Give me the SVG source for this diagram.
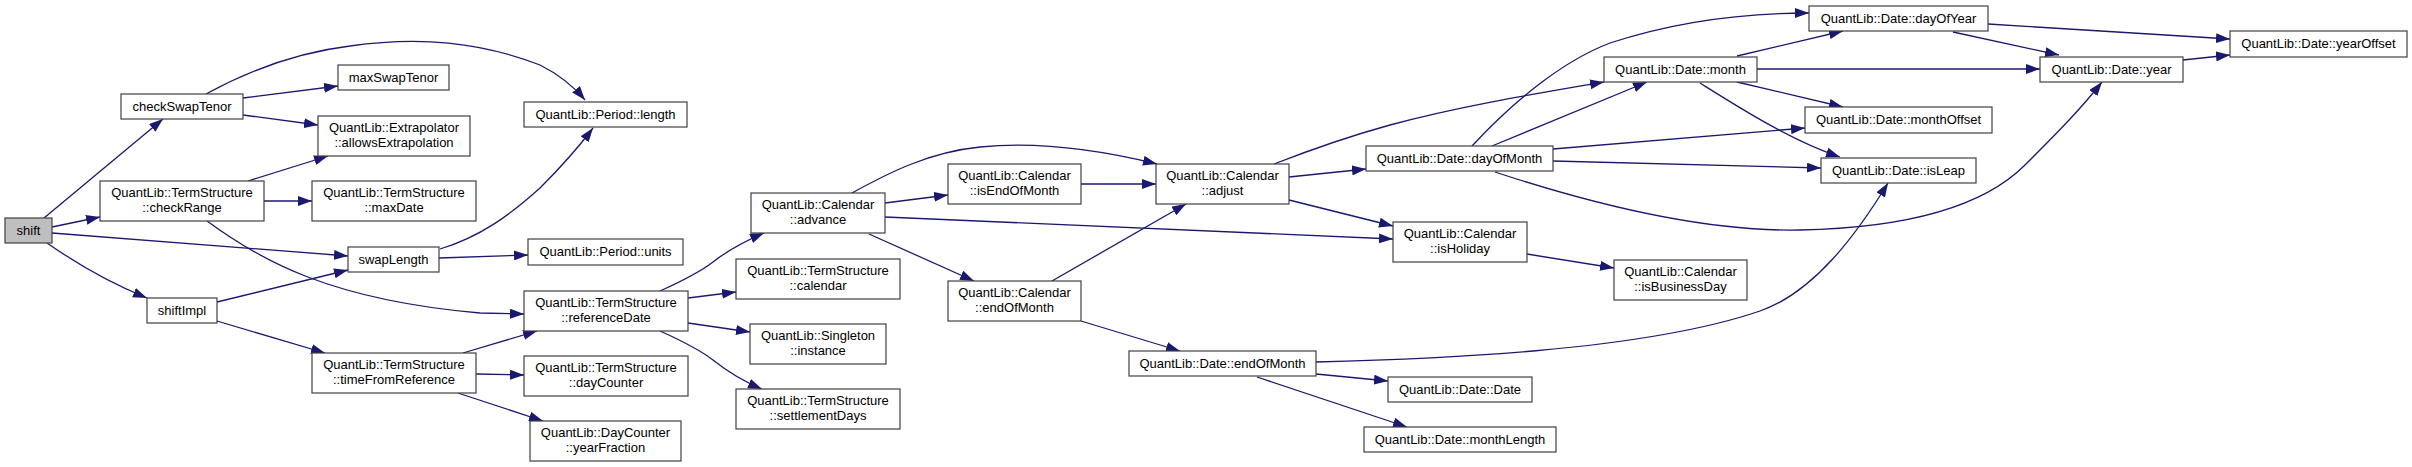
<svg xmlns="http://www.w3.org/2000/svg" width="2412" height="467" viewBox="0 0 2412 467">
<style>
.n rect{fill:#ffffff;stroke:#404040;stroke-width:1.2}
.root rect{fill:#bfbfbf}
.n text{font-family:"Liberation Sans",Arial,sans-serif;font-size:13px;fill:#000;text-anchor:middle}
.e path{fill:none;stroke:#191970;stroke-width:1.3;marker-end:url(#a)}
</style>
<defs>
<marker id="a" markerUnits="userSpaceOnUse" markerWidth="14" markerHeight="10" refX="14" refY="5" orient="auto">
<path d="M0,0 L14,5 L0,10 Z" fill="#191970"/>
</marker>
</defs>
<rect width="2412" height="467" fill="#ffffff"/>
<g id="edges" class="e">
<path d="M44,218 L163,119"/>
<path d="M52,227 L100,217"/>
<path d="M52,233 L348,256"/>
<path d="M47,243 C80,266 110,283 147,298"/>
<path d="M243,98 L338,86"/>
<path d="M243,115 L318,125"/>
<path d="M206,94 C250,70 300,52 350,46 C420,36 480,42 540,65 C560,75 575,88 585,100"/>
<path d="M248,181 L328,156"/>
<path d="M264,201 L312,201"/>
<path d="M207,221 C260,260 330,300 480,313 L524,314"/>
<path d="M440,249 C480,237 510,215 540,188 C560,168 578,148 593,128"/>
<path d="M439,258 L528,255"/>
<path d="M217,302 L348,270"/>
<path d="M217,321 L325,353"/>
<path d="M463,353 L537,331"/>
<path d="M476,374 L524,375"/>
<path d="M458,393 L543,421"/>
<path d="M660,291 C680,282 700,272 713,262 C727,251 745,241 764,233"/>
<path d="M688,298 L736,292"/>
<path d="M688,323 L750,332"/>
<path d="M660,331 C680,340 700,350 713,360 C728,372 745,382 762,389"/>
<path d="M852,193 C890,172 930,152 980,147 C1040,141 1100,150 1157,164"/>
<path d="M885,203 L948,195"/>
<path d="M885,217 L1393,239"/>
<path d="M869,234 L974,281"/>
<path d="M1081,184 L1156,184"/>
<path d="M1052,281 L1186,204"/>
<path d="M1081,321 L1180,351"/>
<path d="M1274,164 C1310,150 1350,136 1390,125 C1460,106 1540,93 1604,82"/>
<path d="M1289,177 L1366,169"/>
<path d="M1289,200 L1393,226"/>
<path d="M1316,362 C1430,359 1640,352 1760,311 C1815,292 1858,232 1888,183"/>
<path d="M1316,374 L1388,381"/>
<path d="M1257,377 L1407,427"/>
<path d="M1472,146 C1510,105 1560,62 1610,43 C1680,20 1750,13 1809,13"/>
<path d="M1492,146 L1647,82"/>
<path d="M1553,149 L1805,128"/>
<path d="M1553,161 L1821,168"/>
<path d="M1495,172 C1580,200 1700,232 1800,230 C1900,228 1980,210 2025,165 C2055,135 2080,110 2102,82"/>
<path d="M1737,56 L1843,31"/>
<path d="M1757,69 L2040,69"/>
<path d="M1737,82 L1843,107"/>
<path d="M1700,83 C1740,108 1790,140 1840,157"/>
<path d="M1988,24 L2230,39"/>
<path d="M1953,32 L2059,55"/>
<path d="M2183,60 L2230,55"/>
<path d="M1527,254 L1614,268"/>
</g>
<g id="shift" class="n root"><rect x="5" y="218" width="47" height="25"/><text x="28.5" y="235">shift</text></g>
<g id="checkSwapTenor" class="n"><rect x="121" y="94" width="122" height="25"/><text x="182" y="111">checkSwapTenor</text></g>
<g id="maxSwapTenor" class="n"><rect x="338" y="65" width="111" height="25"/><text x="393.5" y="82">maxSwapTenor</text></g>
<g id="allowsExtrapolation" class="n"><rect x="318" y="116" width="152" height="40"/><text x="394" y="132">QuantLib::Extrapolator</text><text x="394" y="147">::allowsExtrapolation</text></g>
<g id="checkRange" class="n"><rect x="100" y="181" width="164" height="40"/><text x="182" y="197">QuantLib::TermStructure</text><text x="182" y="212">::checkRange</text></g>
<g id="maxDate" class="n"><rect x="312" y="181" width="164" height="40"/><text x="394" y="197">QuantLib::TermStructure</text><text x="394" y="212">::maxDate</text></g>
<g id="swapLength" class="n"><rect x="348" y="247" width="91" height="25"/><text x="393.5" y="264">swapLength</text></g>
<g id="shiftImpl" class="n"><rect x="147" y="298" width="70" height="25"/><text x="182" y="315">shiftImpl</text></g>
<g id="timeFromReference" class="n"><rect x="312" y="353" width="164" height="40"/><text x="394" y="369">QuantLib::TermStructure</text><text x="394" y="384">::timeFromReference</text></g>
<g id="periodLength" class="n"><rect x="524" y="102" width="163" height="25"/><text x="605.5" y="119">QuantLib::Period::length</text></g>
<g id="periodUnits" class="n"><rect x="528" y="239" width="155" height="26"/><text x="605.5" y="256">QuantLib::Period::units</text></g>
<g id="referenceDate" class="n"><rect x="524" y="291" width="164" height="40"/><text x="606" y="307">QuantLib::TermStructure</text><text x="606" y="322">::referenceDate</text></g>
<g id="dayCounter" class="n"><rect x="524" y="356" width="164" height="40"/><text x="606" y="372">QuantLib::TermStructure</text><text x="606" y="387">::dayCounter</text></g>
<g id="yearFraction" class="n"><rect x="530" y="421" width="151" height="40"/><text x="605.5" y="437">QuantLib::DayCounter</text><text x="605.5" y="452">::yearFraction</text></g>
<g id="advance" class="n"><rect x="751" y="193" width="134" height="40"/><text x="818" y="209">QuantLib::Calendar</text><text x="818" y="224">::advance</text></g>
<g id="tsCalendar" class="n"><rect x="736" y="259" width="164" height="40"/><text x="818" y="275">QuantLib::TermStructure</text><text x="818" y="290">::calendar</text></g>
<g id="instance" class="n"><rect x="750" y="324" width="136" height="40"/><text x="818" y="340">QuantLib::Singleton</text><text x="818" y="355">::instance</text></g>
<g id="settlementDays" class="n"><rect x="736" y="389" width="164" height="40"/><text x="818" y="405">QuantLib::TermStructure</text><text x="818" y="420">::settlementDays</text></g>
<g id="isEndOfMonth" class="n"><rect x="948" y="164" width="133" height="40"/><text x="1014.5" y="180">QuantLib::Calendar</text><text x="1014.5" y="195">::isEndOfMonth</text></g>
<g id="calEndOfMonth" class="n"><rect x="948" y="281" width="133" height="40"/><text x="1014.5" y="297">QuantLib::Calendar</text><text x="1014.5" y="312">::endOfMonth</text></g>
<g id="adjust" class="n"><rect x="1156" y="164" width="133" height="40"/><text x="1222.5" y="180">QuantLib::Calendar</text><text x="1222.5" y="195">::adjust</text></g>
<g id="dateEndOfMonth" class="n"><rect x="1129" y="351" width="187" height="25"/><text x="1222.5" y="368">QuantLib::Date::endOfMonth</text></g>
<g id="dayOfMonth" class="n"><rect x="1366" y="146" width="187" height="25"/><text x="1459.5" y="163">QuantLib::Date::dayOfMonth</text></g>
<g id="isHoliday" class="n"><rect x="1393" y="222" width="134" height="40"/><text x="1460" y="238">QuantLib::Calendar</text><text x="1460" y="253">::isHoliday</text></g>
<g id="dateDate" class="n"><rect x="1388" y="377" width="144" height="25"/><text x="1460" y="394">QuantLib::Date::Date</text></g>
<g id="monthLength" class="n"><rect x="1364" y="427" width="192" height="25"/><text x="1460" y="444">QuantLib::Date::monthLength</text></g>
<g id="month" class="n"><rect x="1604" y="57" width="153" height="25"/><text x="1680.5" y="74">QuantLib::Date::month</text></g>
<g id="isBusinessDay" class="n"><rect x="1614" y="260" width="133" height="40"/><text x="1680.5" y="276">QuantLib::Calendar</text><text x="1680.5" y="291">::isBusinessDay</text></g>
<g id="dayOfYear" class="n"><rect x="1809" y="6" width="179" height="25"/><text x="1898.5" y="23">QuantLib::Date::dayOfYear</text></g>
<g id="monthOffset" class="n"><rect x="1805" y="107" width="187" height="26"/><text x="1898.5" y="124">QuantLib::Date::monthOffset</text></g>
<g id="isLeap" class="n"><rect x="1821" y="158" width="155" height="25"/><text x="1898.5" y="175">QuantLib::Date::isLeap</text></g>
<g id="year" class="n"><rect x="2040" y="57" width="143" height="25"/><text x="2111.5" y="74">QuantLib::Date::year</text></g>
<g id="yearOffset" class="n"><rect x="2230" y="31" width="177" height="26"/><text x="2318.5" y="48">QuantLib::Date::yearOffset</text></g>
</svg>
